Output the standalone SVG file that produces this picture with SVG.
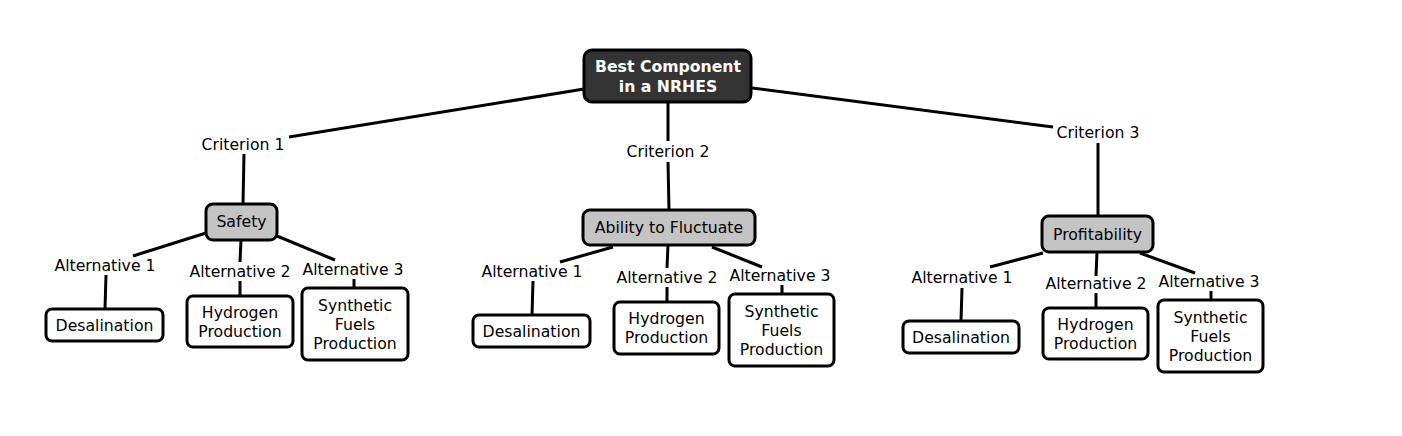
<svg xmlns="http://www.w3.org/2000/svg" width="1402" height="436" viewBox="0 0 1402 436">
<style>
text{font-family:"DejaVu Sans",Verdana,"Liberation Sans",sans-serif;font-size:15.7px;fill:#000;text-anchor:middle}
.root rect{fill:#333333;stroke:#000;stroke-width:3}
.root text{fill:#fff;font-weight:bold}
.cat rect{fill:#c4c4c4;stroke:#000;stroke-width:3}
.alt rect{fill:#fff;stroke:#000;stroke-width:3}
#connectors line{stroke:#000;stroke-width:3;stroke-linecap:butt}
</style>
<rect width="1402" height="436" fill="#fff"/>
<g id="connectors">
<line x1="584" y1="89" x2="289" y2="137"/>
<line x1="244" y1="154" x2="243" y2="204"/>
<line x1="206" y1="233" x2="133" y2="256"/>
<line x1="241" y1="240" x2="240" y2="262"/>
<line x1="277" y1="236" x2="335" y2="260"/>
<line x1="106" y1="275" x2="105" y2="309"/>
<line x1="240" y1="281" x2="240" y2="296"/>
<line x1="354" y1="279" x2="354" y2="288"/>
<line x1="668" y1="102" x2="668" y2="141"/>
<line x1="668" y1="162" x2="669" y2="210"/>
<line x1="613" y1="247" x2="560" y2="262"/>
<line x1="668" y1="245" x2="667" y2="268"/>
<line x1="712" y1="247" x2="762" y2="267"/>
<line x1="533" y1="281" x2="532" y2="315"/>
<line x1="667" y1="287" x2="667" y2="302"/>
<line x1="782" y1="285" x2="782" y2="294"/>
<line x1="752" y1="88" x2="1053" y2="127"/>
<line x1="1098" y1="143" x2="1098" y2="216"/>
<line x1="1043" y1="253" x2="990" y2="267"/>
<line x1="1097" y1="252" x2="1096" y2="276"/>
<line x1="1140" y1="253" x2="1195" y2="273"/>
<line x1="962" y1="288" x2="961" y2="321"/>
<line x1="1096" y1="293" x2="1096" y2="308"/>
<line x1="1211" y1="291" x2="1211" y2="300"/>
</g>
<g id="root" class="root"><rect x="584" y="50" width="167" height="52" rx="8"/><text x="668" y="72">Best Component</text><text x="668" y="91.5">in a NRHES</text></g>
<g id="crit1"><text x="243" y="149.5">Criterion 1</text></g>
<g id="crit2"><text x="668" y="156.5">Criterion 2</text></g>
<g id="crit3"><text x="1098" y="137.5">Criterion 3</text></g>
<g id="safety" class="cat"><rect x="206" y="204" width="71" height="36" rx="7"/><text x="241.5" y="227">Safety</text></g>
<g id="ability" class="cat"><rect x="583" y="210" width="172" height="35" rx="7"/><text x="669" y="232.5">Ability to Fluctuate</text></g>
<g id="profit" class="cat"><rect x="1042" y="216" width="111" height="36" rx="7"/><text x="1097.5" y="239.5">Profitability</text></g>
<g id="s-alt1"><text x="105" y="270.5">Alternative 1</text></g>
<g id="s-alt2"><text x="240" y="276.5">Alternative 2</text></g>
<g id="s-alt3"><text x="353" y="274.5">Alternative 3</text></g>
<g id="a-alt1"><text x="532" y="276.5">Alternative 1</text></g>
<g id="a-alt2"><text x="667" y="282.5">Alternative 2</text></g>
<g id="a-alt3"><text x="780" y="280.5">Alternative 3</text></g>
<g id="p-alt1"><text x="962" y="282.5">Alternative 1</text></g>
<g id="p-alt2"><text x="1096" y="288.5">Alternative 2</text></g>
<g id="p-alt3"><text x="1209" y="286.5">Alternative 3</text></g>
<g id="s-desal" class="alt"><rect x="46" y="309" width="117" height="32" rx="6"/><text x="104.5" y="330.5">Desalination</text></g>
<g id="s-hydro" class="alt"><rect x="187" y="296" width="106" height="51" rx="6"/><text x="240" y="317.5">Hydrogen</text><text x="240" y="336.5">Production</text></g>
<g id="s-synth" class="alt"><rect x="302" y="288" width="106" height="72" rx="6"/><text x="355" y="310.5">Synthetic</text><text x="355" y="329.5">Fuels</text><text x="355" y="348.5">Production</text></g>
<g id="a-desal" class="alt"><rect x="473" y="315" width="117" height="32" rx="6"/><text x="531.5" y="336.5">Desalination</text></g>
<g id="a-hydro" class="alt"><rect x="614" y="302" width="105" height="52" rx="6"/><text x="666.5" y="324">Hydrogen</text><text x="666.5" y="343">Production</text></g>
<g id="a-synth" class="alt"><rect x="729" y="294" width="105" height="72" rx="6"/><text x="781.5" y="316.5">Synthetic</text><text x="781.5" y="335.5">Fuels</text><text x="781.5" y="354.5">Production</text></g>
<g id="p-desal" class="alt"><rect x="903" y="321" width="116" height="32" rx="6"/><text x="961" y="342.5">Desalination</text></g>
<g id="p-hydro" class="alt"><rect x="1043" y="308" width="105" height="51" rx="6"/><text x="1095.5" y="329.5">Hydrogen</text><text x="1095.5" y="348.5">Production</text></g>
<g id="p-synth" class="alt"><rect x="1158" y="300" width="105" height="72" rx="6"/><text x="1210.5" y="322.5">Synthetic</text><text x="1210.5" y="341.5">Fuels</text><text x="1210.5" y="360.5">Production</text></g>
</svg>
